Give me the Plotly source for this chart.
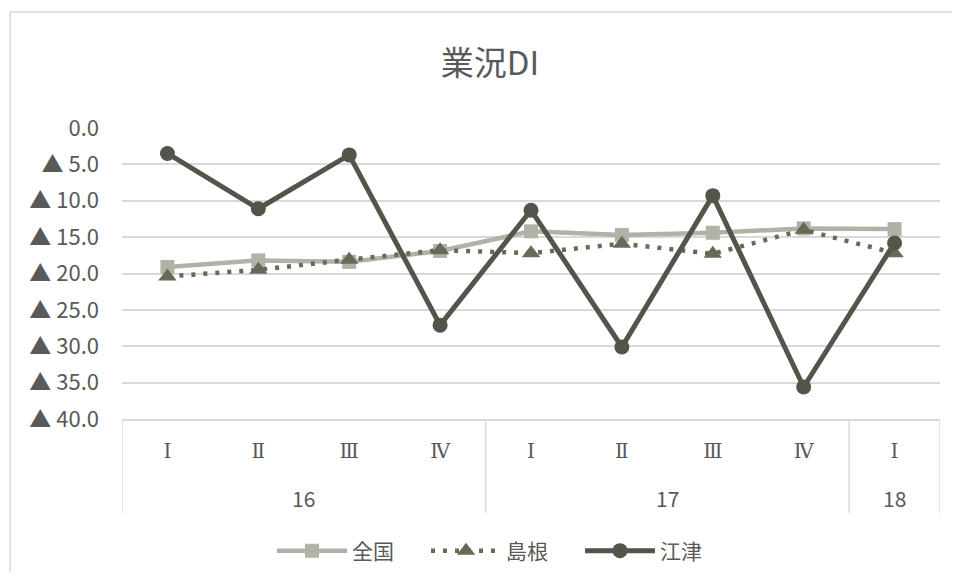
import plotly.graph_objects as go

# ---- data ----
years = ["16", "16", "16", "16", "17", "17", "17", "17", "18"]
quarters = ["Ⅰ", "Ⅱ", "Ⅲ", "Ⅳ", "Ⅰ", "Ⅱ", "Ⅲ", "Ⅳ", "Ⅰ"]
zenkoku = [-19.1, -18.2, -18.4, -16.9, -14.2, -14.7, -14.4, -13.8, -13.9]
shimane = [-20.4, -19.5, -18.1, -16.8, -17.2, -15.9, -17.3, -14.0, -17.2]
gotsu = [-3.5, -11.1, -3.7, -27.1, -11.3, -30.1, -9.3, -35.6, -15.8]
series_names = ["全国", "島根", "江津"]
y_ticks = [0, -5, -10, -15, -20, -25, -30, -35, -40]

# ---- layout geometry (screen px; page body has an 8px margin) ----
OFF = 8
W, H = 960 - 2 * OFF, 580 - 2 * OFF
PL, PR, PT, PB = 122, 940.5, 128, 419   # plot area on screen
L, T = PL - OFF, PT - OFF
R, B = W - (PR - OFF), H - (PB - OFF)
PW, PH = W - L - R, H - T - B

def px_x(p):
    return (p - OFF - L) / PW

def px_y(p):
    return 1 - (p - OFF - T) / PH

FONT = "Noto Sans CJK JP, Noto Sans, sans-serif"
TXT = "#595959"
GRID = "#D9D9D9"

idx = list(range(len(quarters)))

fig = go.Figure()
fig.add_trace(go.Scatter(
    x=idx, y=zenkoku, name=series_names[0], mode="lines+markers",
    line=dict(color="#B0B2A8", width=4.5),
    marker=dict(symbol="square", size=14, color="#B0B2A8"),
    cliponaxis=False,
))
fig.add_trace(go.Scatter(
    x=idx, y=shimane, name=series_names[1], mode="lines+markers",
    line=dict(color="#666A57", width=4.5, dash="4px,8px"),
    marker=dict(symbol="triangle-up", size=16, color="#666A57"),
    cliponaxis=False,
))
fig.add_trace(go.Scatter(
    x=idx, y=gotsu, name=series_names[2], mode="lines+markers",
    line=dict(color="#52554A", width=5),
    marker=dict(symbol="circle", size=15, color="#52554A"),
    cliponaxis=False,
))

def fmt(v):
    return "0.0" if v == 0 else "▲ %.1f" % abs(v)

# group boundaries and year labels
groups = []
for i, yv in enumerate(years):
    if not groups or groups[-1][0] != yv:
        groups.append([yv, i, i])
    else:
        groups[-1][2] = i

shapes = []
annotations = []
div_bottom = px_y(513)
bounds = [groups[0][1] - 0.5] + [g[2] + 0.5 for g in groups]
for bx in bounds:
    shapes.append(dict(type="line", xref="x", yref="paper", x0=bx, x1=bx,
                       y0=0, y1=div_bottom, line=dict(color=GRID, width=1.5),
                       layer="below"))
for g in groups:
    annotations.append(dict(x=(g[1] + g[2]) / 2, xref="x", y=px_y(498), yref="paper",
                            text=g[0], showarrow=False, yanchor="middle",
                            font=dict(family=FONT, size=21, color=TXT)))

# chart frame (right and bottom edges lie outside the visible page)
shapes.append(dict(type="rect", xref="paper", yref="paper",
                   x0=px_x(10), x1=px_x(990), y0=px_y(600), y1=px_y(12),
                   line=dict(color=GRID, width=1.5), layer="below"))

fig.update_layout(
    width=W, height=H,
    margin=dict(l=L, r=R, t=T, b=B),
    paper_bgcolor="white", plot_bgcolor="white",
    title=dict(text="業況DI", x=(490 - OFF) / W, xanchor="center", xref="container",
               y=1 - (63 - OFF) / H, yanchor="middle", yref="container",
               font=dict(family=FONT, size=33, color=TXT)),
    xaxis=dict(range=[-0.5, len(idx) - 0.5], tickvals=idx, ticktext=quarters,
               showgrid=False, zeroline=False, showline=True, linecolor=GRID,
               linewidth=1.5, ticks="", ticklabelstandoff=13,
               tickfont=dict(family="DejaVu Serif", size=20, color=TXT), fixedrange=True),
    yaxis=dict(range=[-40, 0], tickvals=y_ticks, ticktext=[fmt(v) for v in y_ticks],
               showgrid=True, gridcolor=GRID, gridwidth=1.5, zeroline=False,
               showline=False, ticks="", ticklabelstandoff=22,
               tickfont=dict(family=FONT, size=22, color=TXT), fixedrange=True),
    legend=dict(orientation="h", x=(272 - OFF) / W, xref="container", xanchor="left",
                y=1 - (551 - OFF) / H, yref="container", yanchor="middle",
                font=dict(family=FONT, size=21, color=TXT),
                itemwidth=70, entrywidth=69, entrywidthmode="pixels",
                bgcolor="rgba(0,0,0,0)"),
    shapes=shapes, annotations=annotations,
)

fig.write_html("out.html")
